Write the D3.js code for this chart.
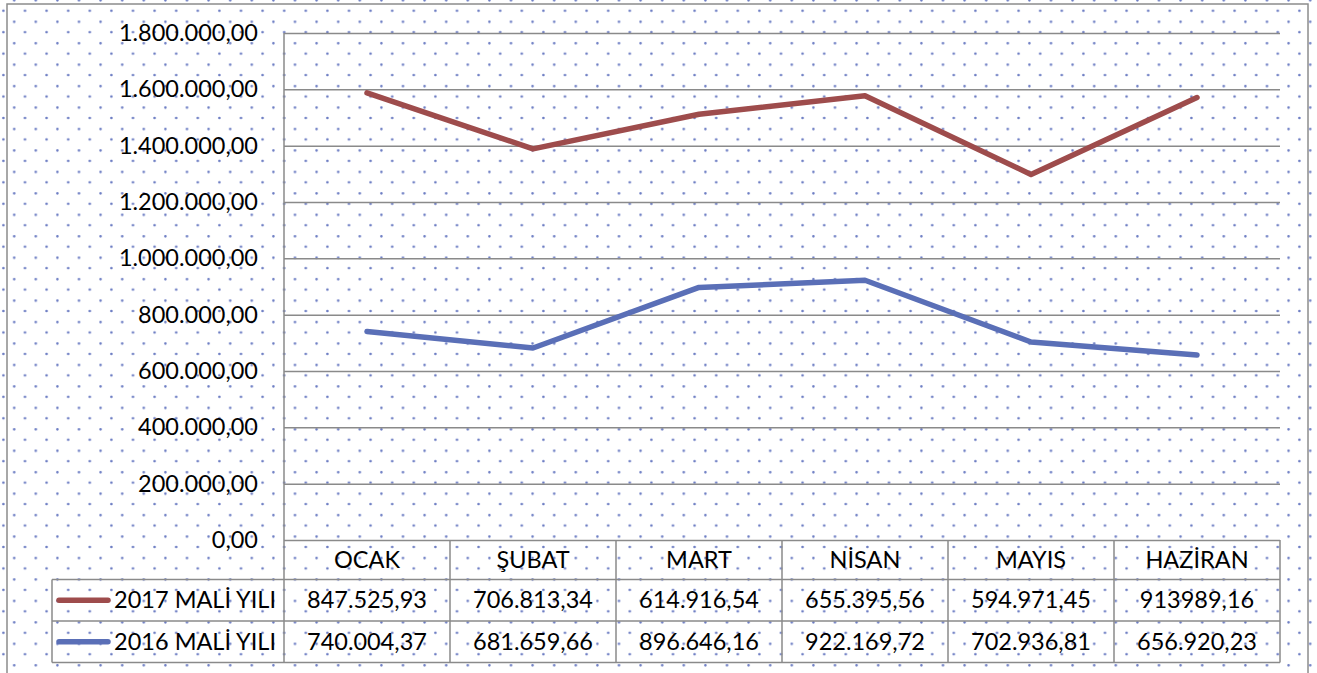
<!DOCTYPE html>
<html>
<head>
<meta charset="utf-8">
<script src="https://cdn.jsdelivr.net/npm/d3@7"></script>
<style>
  body { margin: 0; background: #fff; }
  text { font-family: Lato, "Open Sans", sans-serif; fill: #000; }
</style>
</head>
<body>
<div id="chart"></div>
<script>
// data
const months = ["OCAK", "ŞUBAT", "MART", "NİSAN", "MAYIS", "HAZİRAN"];
const seriesNames = ["2017 MALİ YILI", "2016 MALİ YILI"];
const values2017 = [847525.93, 706813.34, 614916.54, 655395.56, 594971.45, 913989.16];
const values2016 = [740004.37, 681659.66, 896646.16, 922169.72, 702936.81, 656920.23];
// table labels as printed (HAZİRAN 2017 has no thousand separator in the original)
const labels2017 = ["847.525,93", "706.813,34", "614.916,54", "655.395,56", "594.971,45", "913989,16"];
const labels2016 = ["740.004,37", "681.659,66", "896.646,16", "922.169,72", "702.936,81", "656.920,23"];
const yTicks = [0, 200000, 400000, 600000, 800000, 1000000, 1200000, 1400000, 1600000, 1800000];
const colors = { "2017": "#9e4c4c", "2016": "#5a6fb7" };

const width = 1317, height = 673;
const plot = { left: 284, right: 1280, top: 33, bottom: 540 };
const rowH = [540, 579.5, 621, 662.5];   // table row boundaries
const tableLeft = 52;
const fontSize = 23.5;

const svg = d3.select("#chart").append("svg")
  .attr("width", width)
  .attr("height", height);

// dotted background like the Excel pattern fill
const defs = svg.append("defs");
const pat = defs.append("pattern")
  .attr("id", "dots")
  .attr("patternUnits", "userSpaceOnUse")
  .attr("width", 21.6).attr("height", 21.45);
pat.append("circle").attr("cx", 3.4).attr("cy", 10.7).attr("r", 1.3).attr("fill", "#6a7bc2");
pat.append("circle").attr("cx", 14.2).attr("cy", 0.3).attr("r", 1.3).attr("fill", "#6a7bc2");
pat.append("circle").attr("cx", 14.2).attr("cy", 21.75).attr("r", 1.3).attr("fill", "#6a7bc2");

svg.append("rect").attr("width", width).attr("height", height).attr("fill", "#fff");
svg.append("rect").attr("width", width).attr("height", height).attr("fill", "url(#dots)");

// outer chart frame
svg.append("rect")
  .attr("x", 7).attr("y", 4)
  .attr("width", 1301).attr("height", 680)
  .attr("fill", "none")
  .attr("stroke", "#8c8c8c")
  .attr("stroke-width", 1.5);

const x = d3.scalePoint()
  .domain(months)
  .range([plot.left, plot.right])
  .padding(0.5);
const step = x.step();

const y = d3.scaleLinear()
  .domain([0, 1800000])
  .range([plot.bottom, plot.top]);

const fmt = d3.formatLocale({ decimal: ",", thousands: ".", grouping: [3], currency: ["", ""] }).format(",.2f");

// gridlines + y labels
const yAxis = d3.axisLeft(y)
  .tickValues(yTicks)
  .tickSize(-(plot.right - plot.left))
  .tickPadding(26)
  .tickFormat(fmt);

svg.append("g")
  .attr("transform", `translate(${plot.left},0)`)
  .call(yAxis)
  .call(g => g.select(".domain").remove())
  .call(g => g.selectAll(".tick line").attr("stroke", "#8a8a8a").attr("stroke-width", 1.5))
  .call(g => g.selectAll(".tick text")
    .attr("font-size", fontSize)
    .attr("font-family", "Lato, sans-serif")
    .attr("fill", "#000"));

// data table grid
const grid = svg.append("g").attr("stroke", "#8a8a8a").attr("stroke-width", 1.5).attr("fill", "none");
grid.append("line").attr("x1", plot.left).attr("x2", plot.left).attr("y1", plot.top).attr("y2", rowH[3]);
months.forEach((m, i) => {
  const xr = plot.left + step * (i + 1);
  grid.append("line").attr("x1", xr).attr("x2", xr).attr("y1", rowH[0]).attr("y2", rowH[3]);
});
[1, 2, 3].forEach(r => {
  grid.append("line").attr("x1", tableLeft).attr("x2", plot.right).attr("y1", rowH[r]).attr("y2", rowH[r]);
});
grid.append("line").attr("x1", tableLeft).attr("x2", tableLeft).attr("y1", rowH[1]).attr("y2", rowH[3]);

// stacked lines
const stack = d3.stack().keys(["2016", "2017"]);
const rows = months.map((m, i) => ({ month: m, "2016": values2016[i], "2017": values2017[i] }));
const stacked = stack(rows);

const line = d3.line()
  .x((d, i) => x(months[i]))
  .y(d => y(d[1]));

svg.append("g")
  .selectAll("path")
  .data(stacked)
  .join("path")
  .attr("d", line)
  .attr("fill", "none")
  .attr("stroke", d => colors[d.key])
  .attr("stroke-width", 5.5)
  .attr("stroke-linejoin", "round")
  .attr("stroke-linecap", "round");

// table text
const tt = svg.append("g")
  .attr("font-size", fontSize)
  .attr("text-anchor", "middle");

tt.selectAll(".hdr")
  .data(months)
  .join("text")
  .attr("x", d => x(d))
  .attr("y", (rowH[0] + rowH[1]) / 2)
  .attr("dy", "0.35em")
  .text(d => d);

const tableRows = [
  { key: "2017", name: seriesNames[0], labels: labels2017 },
  { key: "2016", name: seriesNames[1], labels: labels2016 }
];

tableRows.forEach((r, ri) => {
  const cy = (rowH[ri + 1] + rowH[ri + 2]) / 2;
  tt.selectAll(".v" + r.key)
    .data(r.labels)
    .join("text")
    .attr("x", (d, i) => x(months[i]))
    .attr("y", cy)
    .attr("dy", "0.35em")
    .text(d => d);

  svg.append("line")
    .attr("x1", 59).attr("x2", 108)
    .attr("y1", cy).attr("y2", cy)
    .attr("stroke", colors[r.key])
    .attr("stroke-width", 5.5)
    .attr("stroke-linecap", "round");

  svg.append("text")
    .attr("x", 276)
    .attr("y", cy)
    .attr("dy", "0.35em")
    .attr("text-anchor", "end")
    .attr("font-size", fontSize)
    .text(r.name);
});
</script>
</body>
</html>
